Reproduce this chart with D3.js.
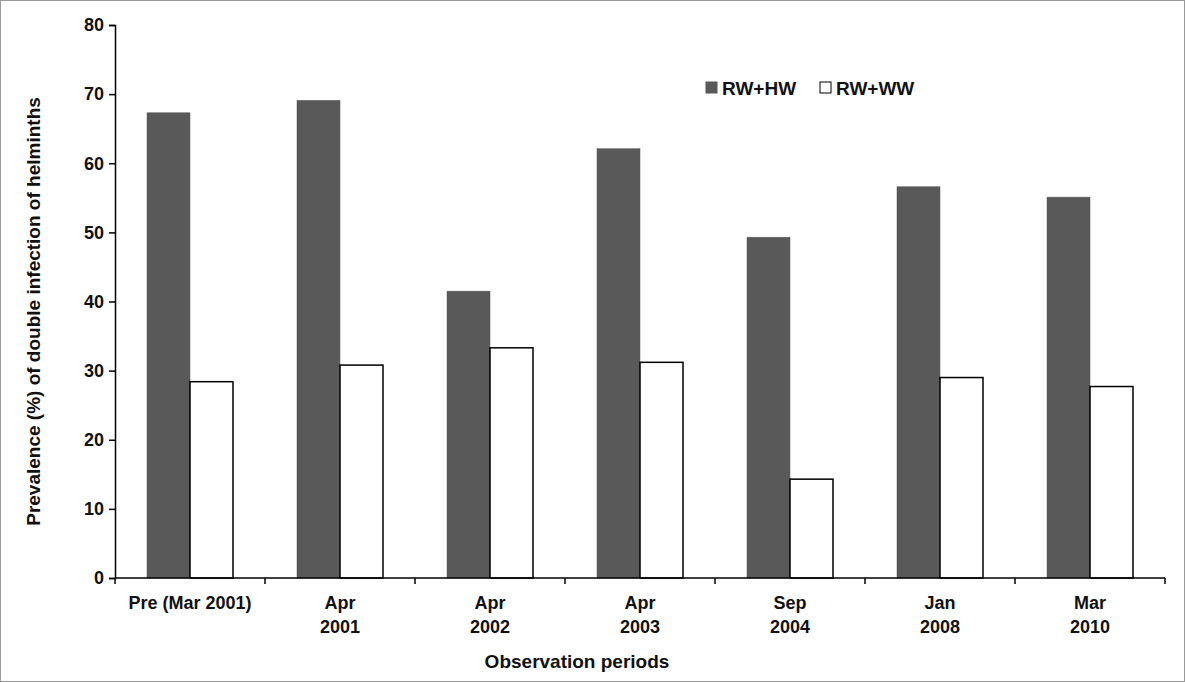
<!DOCTYPE html><html><head><meta charset="utf-8"><script src="https://cdn.jsdelivr.net/npm/d3@7"></script>
<style>body{margin:0;background:#fff}svg{display:block}text{font-family:"Liberation Sans",Arial,sans-serif;font-weight:bold;fill:#111}</style></head><body><script>
const categories=[["Pre (Mar 2001)"],["Apr","2001"],["Apr","2002"],["Apr","2003"],["Sep","2004"],["Jan","2008"],["Mar","2010"]];
const seriesNames=["RW+HW","RW+WW"];
const rwhw=[67.3,69.1,41.5,62.1,49.3,56.6,55.1];
const rwww=[28.4,30.8,33.3,31.2,14.3,29.0,27.7];
const yTicks=[0,10,20,30,40,50,60,70,80];
const W=1185,H=682;
const svg=d3.select("body").append("svg").attr("width",W).attr("height",H);
svg.append("rect").attr("x",0.5).attr("y",0.5).attr("width",W-1).attr("height",H-1).attr("fill","none").attr("stroke","#999");
const x0=115,x1=1165,yB=578,yT=25;
const x=d3.scaleBand().domain(d3.range(7)).range([x0,x1]);
const y=d3.scaleLinear().domain([0,80]).range([yB,yT]);
const bw=43;
const data=[rwhw,rwww];const fills=["#595959","#fff"];
data.forEach((s,si)=>{svg.selectAll(null).data(s).enter().append("rect")
 .attr("x",(d,i)=>x(i)+x.bandwidth()/2-bw+si*bw).attr("width",bw)
 .attr("y",d=>y(d)).attr("height",d=>yB-y(d))
 .attr("fill",fills[si]).attr("stroke",si?"#000":"#595959").attr("stroke-width",si?1.5:0.5);});
const ya=svg.append("g").attr("transform",`translate(${x0},0)`).call(d3.axisLeft(y).tickValues(yTicks).tickSize(6).tickFormat(d3.format("d")));
ya.selectAll("text").style("font-size","18px").attr("dx","-2");
ya.selectAll("path,line").attr("stroke","#000").attr("stroke-width",1.5);
const xa=svg.append("g").attr("transform",`translate(0,${yB})`);
xa.append("line").attr("x1",x0).attr("x2",x1).attr("stroke","#000").attr("stroke-width",1.5);
d3.range(8).forEach(i=>xa.append("line").attr("x1",x0+i*x.step()).attr("x2",x0+i*x.step()).attr("y2",6).attr("stroke","#000").attr("stroke-width",1.5));
categories.forEach((c,i)=>c.forEach((t,j)=>xa.append("text").attr("x",x(i)+x.bandwidth()/2).attr("y",31+j*24).attr("text-anchor","middle").style("font-size","18px").text(t)));
svg.append("text").attr("x",577).attr("y",668).attr("text-anchor","middle").style("font-size","19px").text("Observation periods");
svg.append("text").attr("transform",`translate(40,${(yT+yB)/2+10}) rotate(-90)`).attr("text-anchor","middle").style("font-size","19px").text("Prevalence (%) of double infection of helminths");
seriesNames.forEach((n,i)=>{const lx=706+i*114;
 svg.append("rect").attr("x",lx).attr("y",82).attr("width",11).attr("height",11).attr("fill",fills[i]).attr("stroke",i?"#000":"#595959");
 svg.append("text").attr("x",lx+16).attr("y",95).style("font-size","19px").text(n);});
</script></body></html>
